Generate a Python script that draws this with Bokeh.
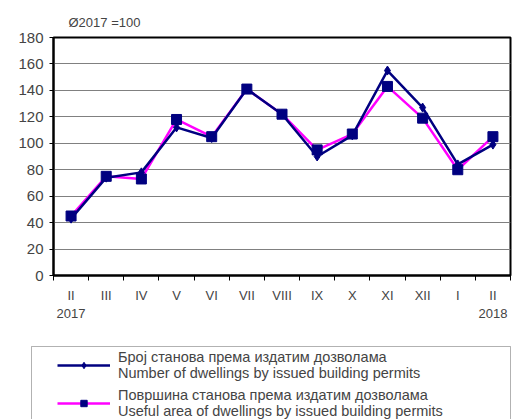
from bokeh.plotting import figure
from bokeh.models import ColumnDataSource, FixedTicker, Legend, LegendItem, Range1d, BoxAnnotation
from bokeh.layouts import column
from bokeh.embed import file_html
from bokeh.resources import INLINE

months = ["II\n2017", "III", "IV", "V", "VI", "VII", "VIII", "IX", "X", "XI", "XII", "I", "II\n2018"]
dwellings = [43, 74, 78, 112, 104, 141, 122, 90, 106, 155, 127, 84, 99]
area = [45, 75, 73, 118, 105, 141, 122, 95, 107, 143, 119, 80, 105]
y_ticks = [0, 20, 40, 60, 80, 100, 120, 140, 160, 180]
label_dw = "Број станова према издатим дозволама\nNumber of dwellings by issued building permits"
label_ar = "Површина станова према издатим дозволама\nUseful area of dwellings by issued building permits"

NAVY = "#000080"
MAGENTA = "#FF00FF"

xs = list(range(len(months)))
src = ColumnDataSource(dict(x=xs, dw=dwellings, ar=area))

p = figure(width=512, height=330, output_backend="svg", toolbar_location=None,
           x_range=Range1d(-0.5, len(months) - 0.5), y_range=Range1d(0, 180),
           min_border_left=53, min_border_right=2, min_border_top=37, min_border_bottom=55)
p.frame_align = False
p.title.text = "Ø2017 =100"
p.title.text_font = "Liberation Sans"
p.title.text_font_size = "13px"
p.title.text_font_style = "normal"
p.title.offset = 15
p.title.standoff = 15

p.outline_line_color = "black"
p.outline_line_width = 2
p.background_fill_color = "white"
p.border_fill_color = "white"

p.xgrid.grid_line_color = None
p.ygrid.grid_line_color = "#808080"
p.ygrid.grid_line_width = 1

p.yaxis.ticker = FixedTicker(ticks=y_ticks)
p.yaxis.minor_tick_line_color = None
p.yaxis.major_tick_in = 0
p.yaxis.major_tick_out = 4
p.yaxis.axis_line_width = 2
p.yaxis.major_label_text_font = "Liberation Sans"
p.yaxis.major_label_text_font_size = "15px"
p.yaxis.major_label_standoff = 6

p.xaxis.ticker = FixedTicker(ticks=xs, minor_ticks=[i + 0.5 for i in range(-1, len(months))])
p.xaxis.major_label_overrides = {i: m for i, m in enumerate(months)}
p.xaxis.major_tick_line_color = None
p.xaxis.minor_tick_in = 0
p.xaxis.minor_tick_out = 5
p.xaxis.axis_line_width = 2
p.xaxis.major_label_text_font = "Liberation Sans"
p.xaxis.major_label_text_font_size = "13px"
p.xaxis.major_label_standoff = 6

p.line("x", "ar", source=src, line_color=MAGENTA, line_width=2.5)
p.line("x", "dw", source=src, line_color=NAVY, line_width=2.5)
p.scatter("x", "dw", source=src, marker="diamond", size=9, fill_color=NAVY, line_color=NAVY)
p.scatter("x", "ar", source=src, marker="square", size=10, fill_color=NAVY, line_color=NAVY)

# legend figure
q = figure(width=512, height=89, output_backend="svg", toolbar_location=None,
           x_range=Range1d(0, 512), y_range=Range1d(0, 89),
           min_border=0, min_border_left=0, min_border_right=0, min_border_top=0, min_border_bottom=0)
q.frame_align = False
q.axis.visible = False
q.grid.grid_line_color = None
q.outline_line_color = None
q.add_layout(BoxAnnotation(left=31, right=510, top=73, bottom=-10,
                           fill_color="white", fill_alpha=1, line_color="black", line_width=1))
nan = float("nan")
empty = ColumnDataSource(dict(x=[nan], y=[nan]))
ql_dw = q.line("x", "y", source=empty, line_color=NAVY, line_width=2.5)
qm_dw = q.scatter("x", "y", source=empty, marker="diamond", size=9, fill_color=NAVY, line_color=NAVY)
ql_ar = q.line("x", "y", source=empty, line_color=MAGENTA, line_width=2.5)
qm_ar = q.scatter("x", "y", source=empty, marker="square", size=10, fill_color=NAVY, line_color=NAVY)

legend = Legend(items=[LegendItem(label=label_dw, renderers=[ql_dw, qm_dw]),
                       LegendItem(label=label_ar, renderers=[ql_ar, qm_ar])],
                location=(57, 0), orientation="vertical", margin=0,
                border_line_color=None, background_fill_alpha=0,
                padding=4, spacing=6, glyph_width=53, glyph_height=16,
                label_standoff=8, label_width=380,
                label_text_font="Liberation Sans", label_text_font_size="14.5px")
q.add_layout(legend, "center")

layout = column(p, q, spacing=0)
open("out.html", "w").write(file_html(layout, INLINE))
